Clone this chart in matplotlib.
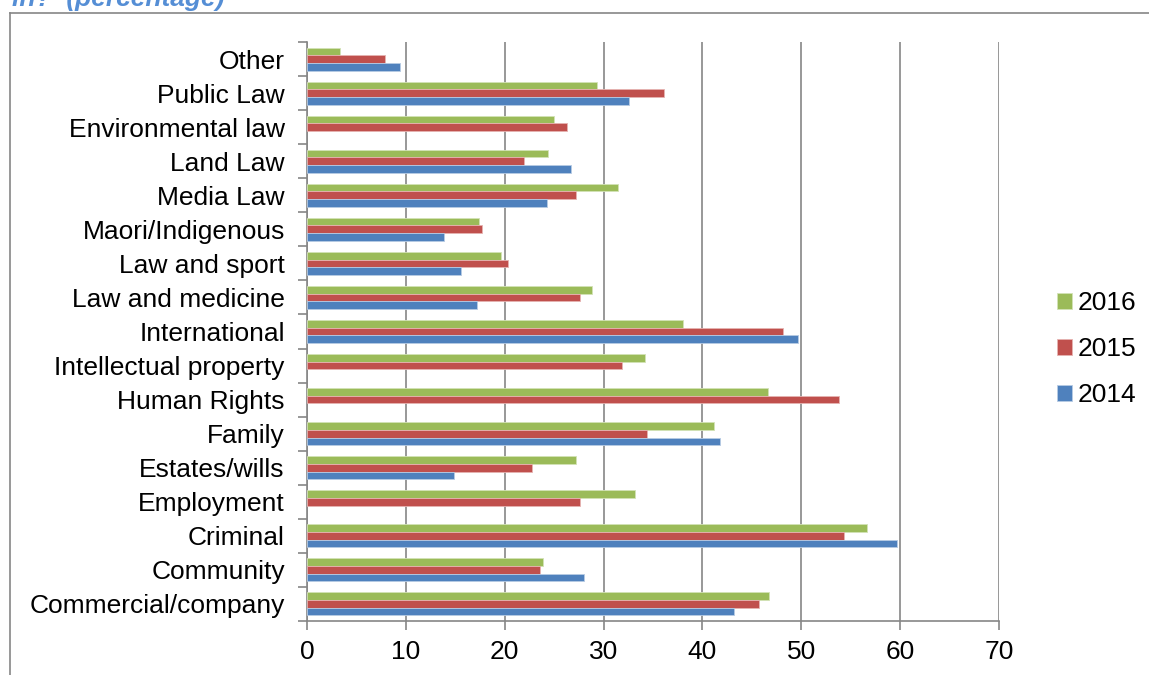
import numpy as np
import matplotlib.pyplot as plt
from matplotlib.lines import Line2D
from matplotlib.ticker import MultipleLocator, FixedLocator

plt.rcParams["font.family"] = ["Liberation Sans", "DejaVu Sans"]

# Areas of law, listed top to bottom as shown
categories = [
    "Other", "Public Law", "Environmental law", "Land Law", "Media Law",
    "Maori/Indigenous", "Law and sport", "Law and medicine", "International",
    "Intellectual property", "Human Rights", "Family", "Estates/wills",
    "Employment", "Criminal", "Community", "Commercial/company",
]
pct_2016 = [3.3, 29.3, 25.0, 24.4, 31.5, 17.4, 19.6, 28.8, 38.0,
            34.2, 46.6, 41.2, 27.2, 33.2, 56.6, 23.9, 46.7]
pct_2015 = [7.9, 36.1, 26.3, 22.0, 27.2, 17.7, 20.3, 27.6, 48.2,
            31.9, 53.8, 34.4, 22.8, 27.6, 54.3, 23.6, 45.7]
pct_2014 = [9.4, 32.6, None, 26.7, 24.3, 13.9, 15.6, 17.2, 49.7,
            None, None, 41.8, 14.9, None, 59.7, 28.0, 43.2]

series = [
    ("2016", pct_2016, "#9BBB59", "#d3e2b6"),
    ("2015", pct_2015, "#C0504D", "#e6b3b1"),
    ("2014", pct_2014, "#4F81BD", "#b7cbe4"),
]

GRID = "#868686"
FS = 19

fig = plt.figure(figsize=(11.49, 6.75), dpi=100)
ax = fig.add_axes([307 / 1149, 1 - 621 / 675, 692 / 1149, 579 / 675])

bar_h = 0.225
for k, (name, vals, color, edge) in enumerate(series):
    offset = (k - 1) * bar_h
    idx = [i for i, v in enumerate(vals) if v is not None]
    ax.barh([i + offset for i in idx], [vals[i] for i in idx], height=bar_h,
            color=color, edgecolor=edge, linewidth=0.6, label=name, zorder=3)

ax.set_xlim(0, 70)
ax.set_ylim(len(categories) - 0.5, -0.5)
ax.xaxis.set_major_locator(MultipleLocator(10))
ax.grid(True, axis="x", color=GRID, linewidth=1.2, zorder=0)
ax.set_axisbelow(True)

ax.set_yticks(range(len(categories)))
ax.set_yticklabels(categories, fontsize=FS)
ax.yaxis.set_minor_locator(FixedLocator(np.arange(-0.5, len(categories), 1.0)))
ax.tick_params(axis="y", which="major", length=0, pad=16)
ax.tick_params(axis="y", which="minor", length=6.5, width=1.2, color=GRID)
ax.tick_params(axis="x", which="major", length=6.5, width=1.2, color=GRID,
               labelsize=FS, pad=7)

for side in ("top", "right"):
    ax.spines[side].set_visible(False)
for side in ("left", "bottom"):
    ax.spines[side].set_color(GRID)
    ax.spines[side].set_linewidth(1.2)

ax.legend(loc="center left", bbox_to_anchor=(1057 / 1149, 1 - 349 / 675),
          bbox_transform=fig.transFigure, frameon=False, fontsize=FS,
          handlelength=0.55, handleheight=0.55, handletextpad=0.25,
          labelspacing=0.83, borderpad=0, borderaxespad=0)

# chart frame and the clipped title above it
x0, y0 = 10 / 1149, 1 - 13 / 675
fig.add_artist(Line2D([x0, x0], [0, y0], color=GRID, linewidth=1.2))
fig.add_artist(Line2D([x0, 1], [y0, y0], color=GRID, linewidth=1.2))
fig.text(12 / 1149, 1 - 6 / 675, "in?  (percentage)", fontsize=FS,
         fontweight="bold", fontstyle="italic", color="#558ED5",
         va="baseline", ha="left")

fig.savefig("out.png", dpi=100, facecolor="white")
